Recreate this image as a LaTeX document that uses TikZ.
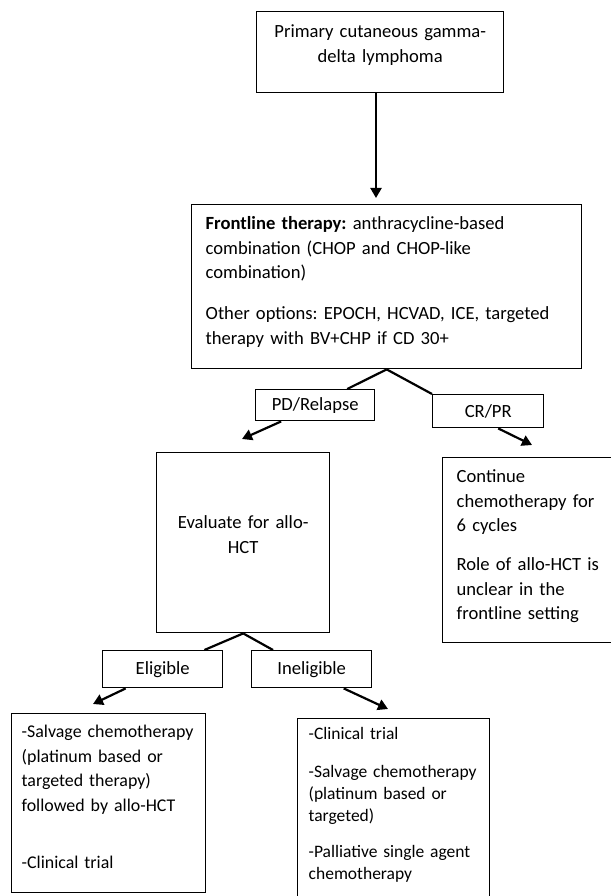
\documentclass[tikz,border=0pt]{standalone}
\usepackage{fontspec}
\setmainfont{Carlito}
\usetikzlibrary{arrows.meta}
\frenchspacing
\hyphenpenalty=10000
\exhyphenpenalty=10000

\tikzset{
  textbox/.style={draw, line width=1.4pt, inner xsep=14pt, inner ysep=0pt,
    anchor=north west, align=left, font=\fontsize{18.6}{24.5}\selectfont},
  tagbox/.style={draw, line width=1.4pt, inner sep=0pt, anchor=north west,
    font=\fontsize{18.6}{22}\selectfont},
  link/.style={line width=2.2pt},
  arrowlink/.style={line width=2.2pt, -{Triangle[length=10pt,width=11pt]}},
}

\begin{document}
\begin{tikzpicture}[x=1pt,y=-1pt]
\useasboundingbox (0,0) rectangle (610,896);

% boxes
\node[textbox, align=center, inner xsep=10pt, text width=227pt, text height=26pt, text depth=55pt] (primary) at (256,11) {Primary cutaneous gamma-\\delta lymphoma};
\node[textbox, text width=362pt, text height=25pt, text depth=139pt] (frontline) at (191,204) {\textbf{Frontline therapy:} anthracycline-based\\combination (CHOP and CHOP-like\\combination)\\[16.5pt]Other options: EPOCH, HCVAD, ICE, targeted\\therapy with BV+CHP if CD 30+};
\node[tagbox, minimum width=119pt, minimum height=31pt] (relapse) at (255,389) {PD/Relapse};
\node[tagbox, minimum width=111pt, minimum height=33pt] (crpr) at (432,394) {CR/PR};
\node[textbox, align=center, inner xsep=8pt, text width=157pt, text height=76pt, text depth=104pt] (evaluate) at (156,452) {Evaluate for allo-\\HCT};
\node[textbox, text width=150pt, text height=25pt, text depth=160pt] (continue) at (442,457) {Continue\\chemotherapy for\\6 cycles\\[14.5pt]Role of allo-HCT is\\unclear in the\\frontline setting};
\node[tagbox, minimum width=120pt, minimum height=37pt] (eligible) at (102,650) {Eligible};
\node[tagbox, minimum width=120pt, minimum height=37pt] (ineligible) at (251,650) {Ineligible};
\node[textbox, inner xsep=10pt, text width=174pt, text height=24pt, text depth=155pt, font=\fontsize{17.9}{24.5}\selectfont] (salvage) at (11,713) {-Salvage chemotherapy\\(platinum based or\\targeted therapy)\\followed by allo-HCT\\[32.5pt]-Clinical trial};
\node[textbox, inner xsep=11pt, text width=170pt, text height=21pt, text depth=170pt, font=\fontsize{17.5}{22}\selectfont] (options) at (297,718) {-Clinical trial\\[16pt]-Salvage chemotherapy\\(platinum based or\\targeted)\\[14pt]-Palliative single agent\\chemotherapy};

% arrow ends
\coordinate (fronttip) at (376,198);
\coordinate (evaltip) at (242,439);
\coordinate (conttip) at (532,445);
\coordinate (salvtip) at (93,704);
\coordinate (opttip) at (388,709);

% connectors
\draw[arrowlink] (primary.south -| fronttip) -- (fronttip);
\draw[link] (frontline.south) -- ([xshift=32pt]relapse.north);
\draw[link] (frontline.south) -- (crpr.north west);
\draw[arrowlink] ([xshift=-34pt]relapse.south) -- (evaltip);
\draw[arrowlink] ([xshift=10pt]crpr.south) -- (conttip);
\draw[link] (evaluate.south) -- ([xshift=-19pt]eligible.north east);
\draw[link] (evaluate.south) -- ([xshift=22pt]ineligible.north west);
\draw[arrowlink] ([xshift=-37pt]eligible.south) -- (salvtip);
\draw[arrowlink] ([xshift=32pt]ineligible.south) -- (opttip);
\end{tikzpicture}
\end{document}
